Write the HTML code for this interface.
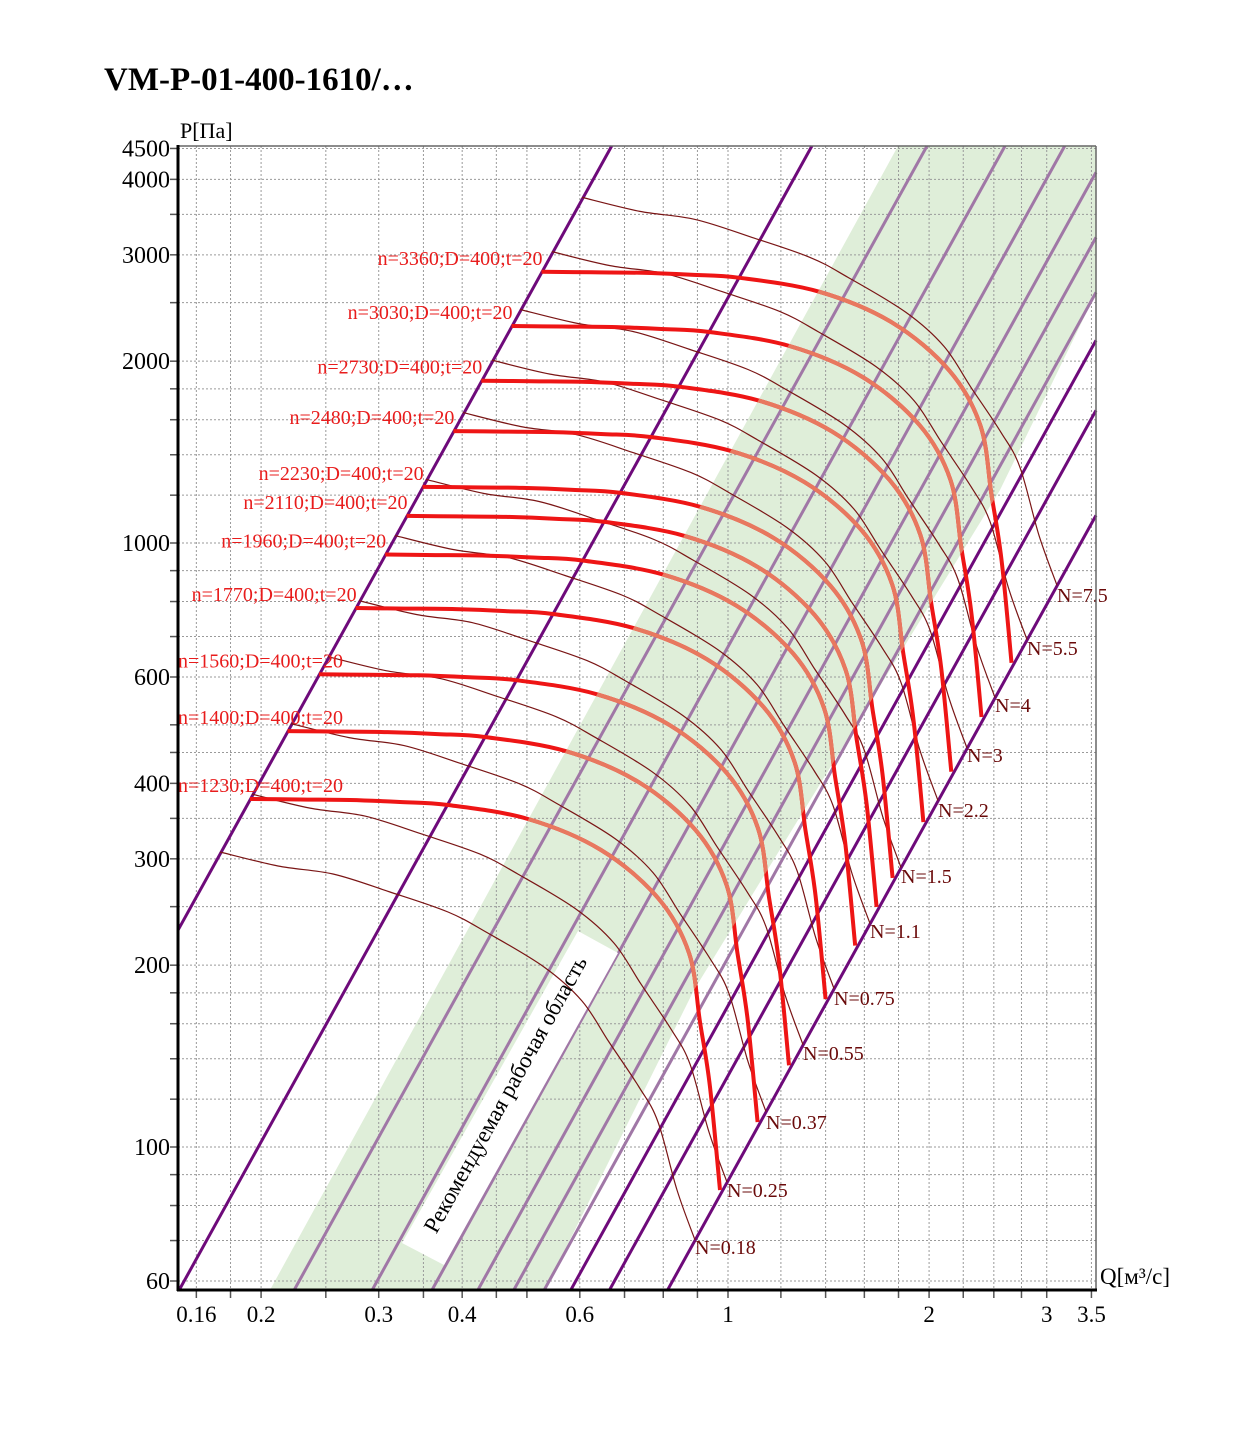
<!DOCTYPE html>
<html><head><meta charset="utf-8"><style>
html,body{margin:0;padding:0;background:#fff;overflow:hidden;width:1241px;height:1432px;}
svg{display:block;position:absolute;left:0;top:0;}
svg text{font-family:"Liberation Serif",serif;}
</style>
<script>
document.addEventListener('DOMContentLoaded',function(){
const NS="http://www.w3.org/2000/svg";
function el(par,tag,attrs,txt){const e=document.createElementNS(NS,tag);for(const k in attrs)e.setAttribute(k,attrs[k]);if(txt!==undefined)e.textContent=txt;document.getElementById(par).appendChild(e);return e;}
const X=q=>728+668*Math.log10(q), Y=p=>543-604*(Math.log10(p)-3);
const qs=[0.16,0.18,0.2,0.25,0.3,0.35,0.4,0.45,0.5,0.6,0.7,0.8,0.9,1,1.2,1.4,1.6,1.8,2,2.25,2.5,2.75,3,3.5];
const ps=[4500,4000,3500,3000,2500,2000,1800,1600,1400,1200,1000,900,800,700,600,500,450,400,350,300,250,200,180,160,140,120,100,90,80,70,60];
for(const q of qs){const x=X(q);el('gridtop','line',{x1:x,x2:x,y1:146,y2:1290,stroke:'#9a9a9a','stroke-width':1,'stroke-dasharray':'2,2'});
 el('axes','line',{x1:x,x2:x,y1:1290,y2:1298,stroke:'#555','stroke-width':1.5});}
for(const p of ps){const y=Y(p);el('gridtop','line',{x1:178,x2:1096,y1:y,y2:y,stroke:'#9a9a9a','stroke-width':1,'stroke-dasharray':'2,2'});
 el('axes','line',{x1:170,x2:178,y1:y,y2:y,stroke:'#555','stroke-width':1.5});}
const cs=[[1252,1],[1614,1],[1822,0],[1963,0],[2071,0],[2154,0],[2219,0],[2274,0],[2322,1],[2392,1],[2497,1]];
const k=1.808;
for(const [c,d] of cs){
 // bottom-left point
 let xa=(c-1290)/k, ya=1290; if(xa<178){xa=178;ya=c-k*178;}
 let xb=(c-146)/k, yb=146; if(xb>1096){xb=1096;yb=c-k*1096;}
 el('purple','line',{x1:xa.toFixed(1),y1:ya.toFixed(1),x2:xb.toFixed(1),y2:yb.toFixed(1),stroke:d?'#6e0a7a':'#a077a6','stroke-width':3});}
function path(pts){let d='M'+pts[0][0]+','+pts[0][1];for(let i=0;i<pts.length-1;i++){const p0=pts[i-1]||pts[i],p1=pts[i],p2=pts[i+1],p3=pts[i+2]||p2;
 d+=' C'+(p1[0]+(p2[0]-p0[0])/6).toFixed(1)+','+(p1[1]+(p2[1]-p0[1])/6).toFixed(1)+' '+(p2[0]-(p3[0]-p1[0])/6).toFixed(1)+','+(p2[1]-(p3[1]-p1[1])/6).toFixed(1)+' '+p2[0].toFixed(1)+','+p2[1].toFixed(1);}return d;}
function shift(pts,L){return pts.map(p=>[p[0]+668*L,p[1]-1208*L]);}
const thin=[[220,852],[278,866],[333,874],[390,892],[448,912],[486,932],[544,967],[582,1001],[609,1042],[639,1087],[658,1122],[677,1190],[695,1240]];
const nl=[[0.18,695,1247],[0.25,727,1190],[0.37,766,1122],[0.55,803,1053],[0.75,834,998],[1.1,870,931],[1.5,901,876],[2.2,938,810],[3,967,755],[4,995,705],[5.5,1027,648],[7.5,1057,595]];
for(const [n,x,y] of nl){const L=(x-695)/668;el('thin','path',{d:path(shift(thin,L)),fill:'none',stroke:'#7a1515','stroke-width':1.2});
 el('labels','text',{x:x,y:y+7,'font-size':20,fill:'#6a0a0a'},'N='+n);}
const red=[[250,799],[300,799.5],[350,800],[400,802],[448,805],[528,819],[601,850],[658,898],[689,953],[700,1022],[710,1087],[720,1190]];
const ns=[1230,1400,1560,1770,1960,2110,2230,2480,2730,3030,3360];
for(const n of ns){const L=Math.log10(n/1230);const pts=shift(red,L);const d=path(pts);
 el('red','path',{d:d,fill:'none',stroke:'#ee1515','stroke-width':4});
 el('red','path',{d:d,fill:'none',stroke:'#e8785f','stroke-width':4,'clip-path':'url(#green)'});
 const sx=pts[0][0],sy=pts[0][1];const t='n='+n+';D=400;t=20';
 if(n<=1560) el('labels','text',{x:178,y:sy-7,'font-size':20,fill:'#e81c1c'},t);
 else el('labels','text',{x:sx+1,y:sy-7,'font-size':20,fill:'#e81c1c','text-anchor':'end'},t);}
el('axes','line',{x1:178,y1:146,x2:1096,y2:146,stroke:'#666','stroke-width':1.5});
el('axes','line',{x1:1096,y1:146,x2:1096,y2:1290,stroke:'#666','stroke-width':1.5});
el('axes','line',{x1:178,y1:145,x2:178,y2:1291,stroke:'#000','stroke-width':3});
el('axes','line',{x1:177,y1:1290,x2:1097,y2:1290,stroke:'#000','stroke-width':3});
for(const [t,p] of [['4500',4500],['4000',4000],['3000',3000],['2000',2000],['1000',1000],['600',600],['400',400],['300',300],['200',200],['100',100],['60',60]])
 el('axes','text',{x:170,y:Y(p)+8,'font-size':24,fill:'#000','text-anchor':'end'},t);
for(const [t,q] of [['0.16',0.16],['0.2',0.2],['0.3',0.3],['0.4',0.4],['0.6',0.6],['1',1],['2',2],['3',3],['3.5',3.5]])
 el('axes','text',{x:X(q),y:1322,'font-size':23,fill:'#000','text-anchor':'middle'},t);
});
</script>
</head><body>
<svg id="s" xmlns="http://www.w3.org/2000/svg" width="1241" height="1432" viewBox="0 0 1241 1432">
<defs>
<clipPath id="plot"><rect x="178" y="146" width="918" height="1144"/></clipPath>
<clipPath id="green"><polygon points="270,1290 898,146 1096,146 1096,293 1000,490 694,990 545,1290"/></clipPath>
</defs>
<rect width="1241" height="1432" fill="#fff"/>
<text x="104" y="90" font-size="33" font-weight="bold" fill="#000">VM-P-01-400-1610/…</text>
<text x="180" y="138" font-size="22" fill="#000">P[Па]</text>
<text x="1100" y="1284" font-size="23" fill="#000">Q[м³/с]</text>
<polygon points="270,1290 898,146 1096,146 1096,293 1000,490 694,990 545,1290" fill="#dfeed9"/>
<g id="gridtop"></g>
<g id="purple"></g>
<polygon points="402,1243 444,1265 618,953 578,931" fill="#fff"/>
<g id="thin" clip-path="url(#plot)"></g>
<g id="red"></g>
<g id="labels"></g>
<text transform="translate(512,1098) rotate(-61)" text-anchor="middle" font-size="23" fill="#000">Рекомендуемая рабочая область</text>
<g id="axes"></g>
</svg>
</body></html>
